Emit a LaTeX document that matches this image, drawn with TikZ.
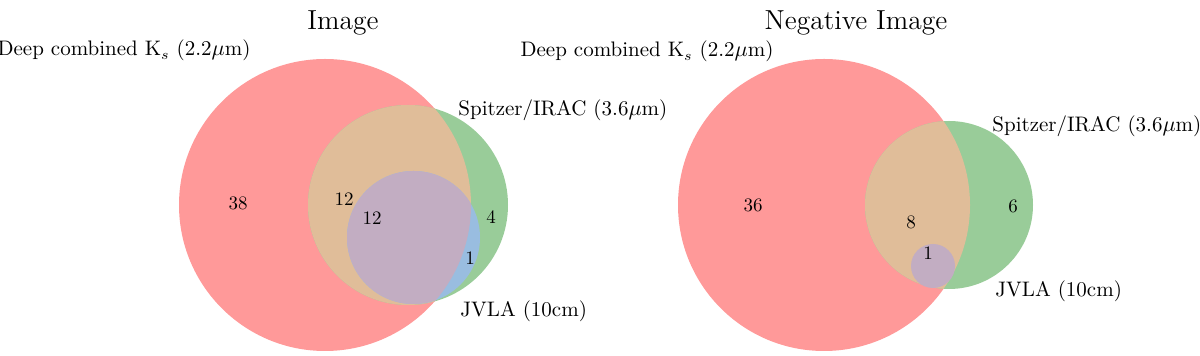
\documentclass[tikz,border=0pt]{standalone}
\usepackage{xcolor}
\usepackage{tikz}
\usetikzlibrary{positioning}
\definecolor{setks}{RGB}{255, 153, 153}
\definecolor{setirac}{RGB}{153, 204, 153}
\definecolor{iracjvla}{RGB}{153, 189, 224}
\definecolor{ksirac}{RGB}{224, 189, 153}
\definecolor{allthree}{RGB}{194, 173, 194}

\begin{document}
\begin{tikzpicture}[
    x=0.5pt, y=-0.5pt,
    paneltitle/.style={font=\fontsize{13.75}{16}\selectfont, inner sep=0pt, anchor=base},
    setlabel/.style={font=\fontsize{10.5}{12}\selectfont, inner sep=0pt},
    count/.style={font=\fontsize{9.5}{11}\selectfont, inner sep=0pt}
  ]
  \useasboundingbox (0,0) rectangle (1200,356);

  % Circle centres
  \coordinate (ksA) at (325,205);
  \coordinate (iracA) at (408,205);
  \coordinate (jvlaA) at (413.5,237.5);
  \coordinate (ksB) at (824,205);
  \coordinate (iracB) at (949,205);
  \coordinate (jvlaB) at (933,266);

  % Image
  \fill[setks] (ksA) circle[radius=146];
  \fill[setirac] (iracA) circle[radius=100];
  \begin{scope}
    \clip (ksA) circle[radius=146];
    \fill[ksirac] (iracA) circle[radius=100];
  \end{scope}
  \begin{scope}
    \clip (iracA) circle[radius=100];
    \fill[iracjvla] (jvlaA) circle[radius=66.5];
  \end{scope}
  \begin{scope}
    \clip (ksA) circle[radius=146];
    \clip (iracA) circle[radius=100];
    \fill[allthree] (jvlaA) circle[radius=66.5];
  \end{scope}

  % Negative image
  \fill[setks] (ksB) circle[radius=146];
  \fill[setirac] (iracB) circle[radius=84];
  \begin{scope}
    \clip (ksB) circle[radius=146];
    \fill[ksirac] (iracB) circle[radius=84];
  \end{scope}
  \fill[allthree] (jvlaB) circle[radius=22];

  % Titles
  \node[paneltitle] (titleA) at (343,30) {Image};
  \node[paneltitle] (titleB) at (856,30) {Negative Image};

  % Set labels
  \node[setlabel, anchor=base east] (ksnameA) at (251,56) {Deep combined K$_s$ (2.2$\mu$m)};
  \node[setlabel, anchor=base west] (iracnameA) at (458,116) {Spitzer/IRAC (3.6$\mu$m)};
  \node[setlabel, anchor=base west] (jvlanameA) at (460,317) {JVLA (10cm)};
  \node[setlabel, anchor=base east] (ksnameB) at (774,57) {Deep combined K$_s$ (2.2$\mu$m)};
  \node[setlabel, anchor=base west] (iracnameB) at (992,132) {Spitzer/IRAC (3.6$\mu$m)};
  \node[setlabel, anchor=base west] (jvlanameB) at (995,297) {JVLA (10cm)};

  % Counts
  \node[count] (onlyksA) at (238,203) {38};
  \node[count] (ksiracA) at (344,199) {12};
  \node[count] (allA) at (372,218) {12};
  \node[count] (onlyiracA) at (491,217) {4};
  \node[count] (iracjvlaA) at (470,258) {1};
  \node[count] (onlyksB) at (753,205) {36};
  \node[count] (ksiracB) at (911,222) {8};
  \node[count] (allB) at (928,253) {1};
  \node[count] (onlyiracB) at (1013,206) {6};

\end{tikzpicture}
\end{document}
